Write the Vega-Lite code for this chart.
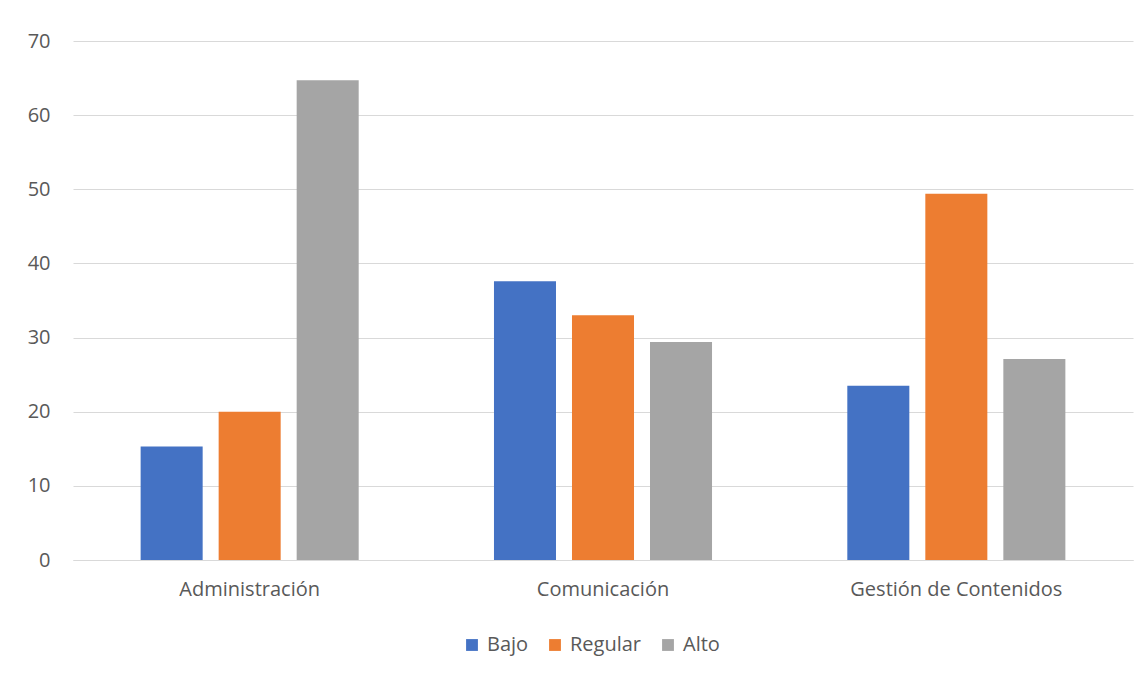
{
  "$schema": "https://vega.github.io/schema/vega-lite/v6.json",
  "width": 1060,
  "height": 519,
  "autosize": {"type": "none"},
  "padding": {"left": 73, "top": 41, "right": 15, "bottom": 116},
  "background": "white",
  "data": {
    "values": [
      {"cat": "Administración", "nivel": "Bajo", "v": 15.3},
      {"cat": "Administración", "nivel": "Regular", "v": 20.0},
      {"cat": "Administración", "nivel": "Alto", "v": 64.7},
      {"cat": "Comunicación", "nivel": "Bajo", "v": 37.6},
      {"cat": "Comunicación", "nivel": "Regular", "v": 33.0},
      {"cat": "Comunicación", "nivel": "Alto", "v": 29.4},
      {"cat": "Gestión de Contenidos", "nivel": "Bajo", "v": 23.5},
      {"cat": "Gestión de Contenidos", "nivel": "Regular", "v": 49.4},
      {"cat": "Gestión de Contenidos", "nivel": "Alto", "v": 27.1}
    ]
  },
  "mark": {"type": "bar"},
  "encoding": {
    "x": {
      "field": "cat", "type": "nominal", "sort": null,
      "scale": {"paddingInner": 0, "paddingOuter": 0},
      "axis": {"title": null, "labelAngle": 0, "labelLimit": 400, "ticks": false, "domain": true, "domainColor": "#D9D9D9", "domainWidth": 1, "labelPadding": 19, "grid": false}
    },
    "xOffset": {
      "field": "nivel", "type": "nominal", "sort": ["Bajo", "Regular", "Alto"],
      "scale": {"paddingInner": 0.205, "paddingOuter": 0.867}
    },
    "y": {
      "field": "v", "type": "quantitative",
      "scale": {"domain": [0, 70], "nice": false},
      "axis": {"title": null, "values": [0,10,20,30,40,50,60,70], "labelOverlap": false, "ticks": false, "domain": false, "grid": true, "gridColor": "#D9D9D9", "gridWidth": 1, "labelPadding": 23}
    },
    "color": {
      "field": "nivel", "type": "nominal", "sort": ["Bajo", "Regular", "Alto"],
      "scale": {"domain": ["Bajo", "Regular", "Alto"], "range": ["#4472C4", "#ED7D31", "#A5A5A5"]},
      "legend": {"title": null, "orient": "none", "legendX": 389, "legendY": 594, "direction": "horizontal", "symbolType": "square", "symbolSize": 140, "symbolStrokeWidth": 0, "symbolOpacity": 1, "columnPadding": 16, "labelOffset": 5}
    }
  },
  "config": {
    "view": {"stroke": null},
    "font": "Open Sans",
    "axis": {"labelFont": "Open Sans", "labelFontSize": 20, "labelColor": "#595959"},
    "legend": {"labelFont": "Open Sans", "labelFontSize": 20, "labelColor": "#595959"}
  }
}
